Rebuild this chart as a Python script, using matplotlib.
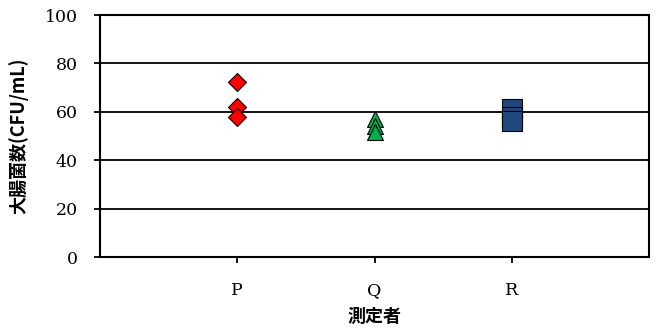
import matplotlib
matplotlib.use("Agg")
import matplotlib.pyplot as plt

categories = ["P", "Q", "R"]
p_values = [72.5, 62, 58]
q_values = [57, 54, 51.5]
r_values = [61, 58, 56]
yticks = [0, 20, 40, 60, 80, 100]

fig = plt.figure(figsize=(6.56, 3.33), dpi=100)
ax = fig.add_axes([100/656, 1-257/333, (649-100)/656, (257-15)/333])

for y in yticks[1:]:
    ax.axhline(y, color="black", lw=1.3, zorder=1)

ax.plot([1]*len(p_values), p_values, ls="none", marker="D", ms=9,
        mfc="#FF0000", mec="black", mew=0.8, zorder=3)
ax.plot([2]*len(q_values), q_values, ls="none", marker="^", ms=11,
        mfc="#00B050", mec="black", mew=0.8, zorder=3)
ax.plot([3]*len(r_values), r_values, ls="none", marker="s", ms=14,
        mfc="#1F497D", mec="black", mew=0.8, zorder=3)

ax.set_xlim(0, 4)
ax.set_ylim(0, 100)
ax.set_xticks([1, 2, 3])
ax.set_xticklabels(categories)
ax.set_yticks(yticks)
for s in ax.spines.values():
    s.set_linewidth(1.5)
    s.set_color("black")
ax.tick_params(axis="both", direction="out", length=4, width=1.3,
               labelsize=12.5)
ax.tick_params(axis="x", pad=14)
ax.tick_params(axis="y", pad=12)
for lbl in ax.get_xticklabels() + ax.get_yticklabels():
    lbl.set_family("DejaVu Serif")

ax.set_ylabel("大腸菌数(CFU/mL)", family=["Noto Sans CJK JP", "DejaVu Sans"],
              fontweight="bold", fontsize=13, labelpad=12)
ax.set_xlabel("測定者", family=["Noto Sans CJK JP", "DejaVu Sans"],
              fontweight="bold", fontsize=13, labelpad=6)

fig.savefig("out.png", dpi=100)
